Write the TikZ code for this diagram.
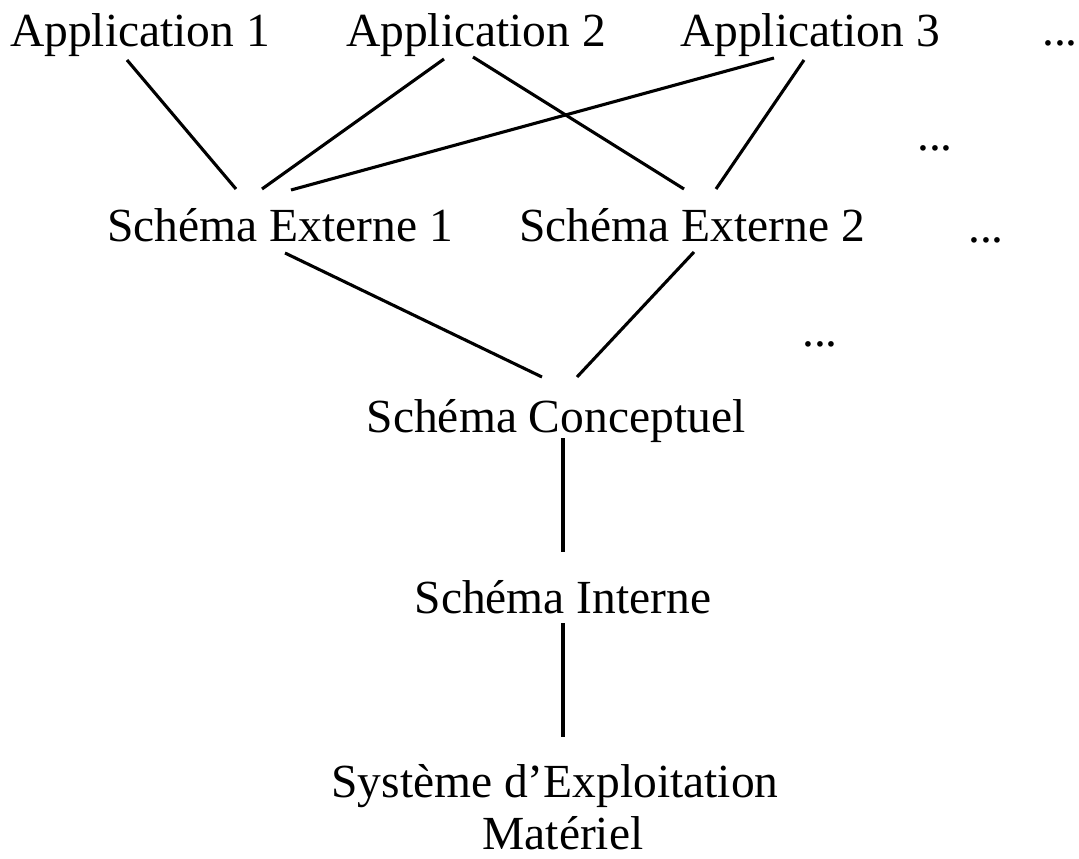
\documentclass[tikz,border=0pt]{standalone}
\usepackage{fontspec}
\setmainfont{Liberation Serif}
\begin{document}
\begin{tikzpicture}[x=1pt,y=-1pt,
  lbl/.style={anchor=base,inner sep=0pt,font=\fontsize{47.5}{54}\selectfont},
  link/.style={line width=3.1pt}]
\useasboundingbox (0,0) rectangle (1079,859);
% application level
\node[lbl] (a1) at (140,47) {Application 1};
\node[lbl] (a2) at (476,47) {Application 2};
\node[lbl] (a3) at (810,47) {Application 3};
\node[lbl] (d1) at (1060,46) {...};
\node[lbl] (d2) at (935,150) {...};
% external schemas
\node[lbl] (se1) at (280,241) {Schéma Externe 1};
\node[lbl] (se2) at (692,241) {Schéma Externe 2};
\node[lbl] (d3) at (986,242) {...};
\node[lbl] (d4) at (820,346) {...};
% conceptual, internal, system
\node[lbl] (sc) at (556,432) {Schéma Conceptuel};
\node[lbl] (si) at (563,613) {Schéma Interne};
\node[lbl] (sys) at (555,797) {Système d’Exploitation};
\node[lbl,text depth=0pt] (mat) at (563,849) {Matériel};
% connectors
\draw[link] ([shift={(-13,13)}]a1.base) -- ([shift={(-44,-52)}]se1.base);
\draw[link] ([shift={(-32,12)}]a2.base) -- ([shift={(-18,-52)}]se1.base);
\draw[link] ([shift={(-3,10)}]a2.base) -- ([shift={(-8,-52)}]se2.base);
\draw[link] ([shift={(-36,11)}]a3.base) -- ([shift={(11,-51)}]se1.base);
\draw[link] ([shift={(-6,13)}]a3.base) -- ([shift={(24,-52)}]se2.base);
\draw[link] ([shift={(5,12)}]se1.base) -- ([shift={(-14,-55)}]sc.base);
\draw[link] ([shift={(2,11)}]se2.base) -- ([shift={(21,-55)}]sc.base);
\draw[link] ([shift={(7,6)}]sc.base) -- ([shift={(0,-61)}]si.base);
\draw[link] ([shift={(0,10)}]si.base) -- ([shift={(8,-60)}]sys.base);
\end{tikzpicture}
\end{document}
